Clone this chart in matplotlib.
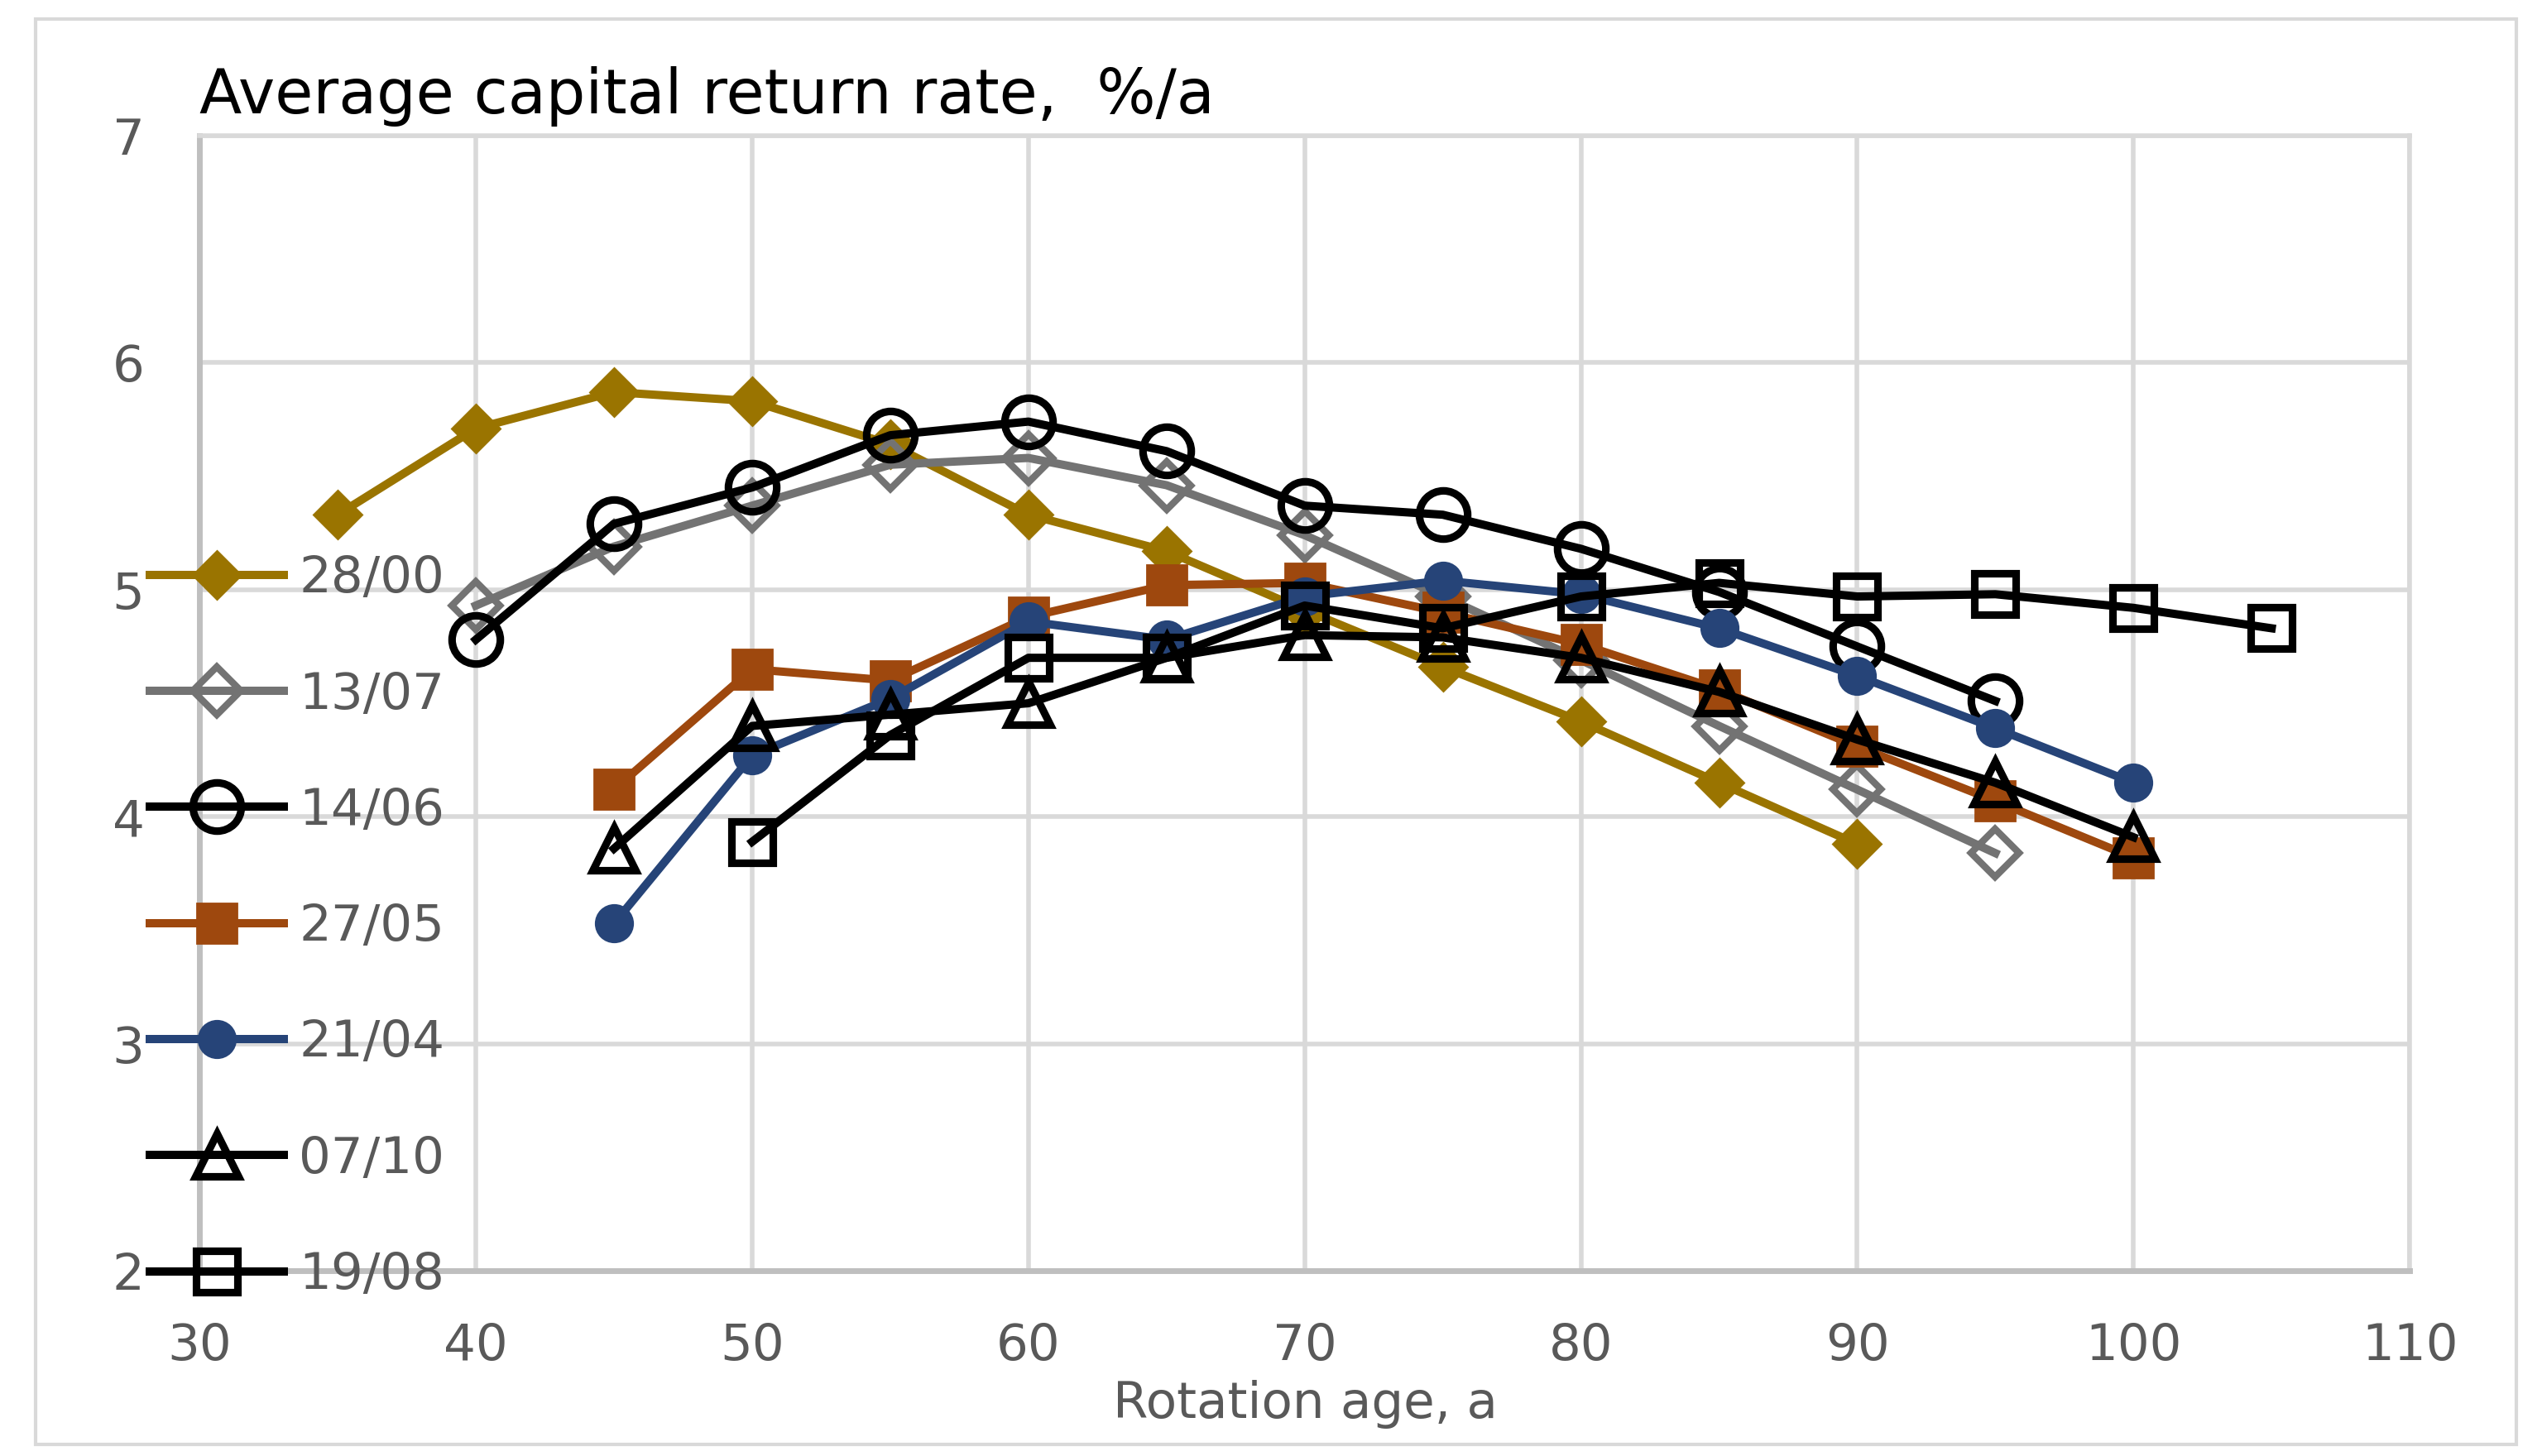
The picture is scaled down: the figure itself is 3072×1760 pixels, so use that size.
import matplotlib.pyplot as plt
from matplotlib.patches import Rectangle

plt.rcParams['font.family'] = ['DejaVu Sans']

# rotation ages for each series
x_2800 = [35, 40, 45, 50, 55, 60, 65, 70, 75, 80, 85, 90]
y_2800 = [5.33, 5.71, 5.87, 5.83, 5.64, 5.33, 5.17, 4.91, 4.66, 4.42, 4.15, 3.88]

x_1307 = [40, 45, 50, 55, 60, 65, 70, 75, 80, 85, 90, 95]
y_1307 = [4.93, 5.19, 5.37, 5.55, 5.58, 5.46, 5.24, 4.97, 4.69, 4.40, 4.12, 3.84]

x_1406 = [40, 45, 50, 55, 60, 65, 70, 75, 80, 85, 90, 95]
y_1406 = [4.78, 5.29, 5.45, 5.68, 5.74, 5.61, 5.37, 5.33, 5.18, 4.99, 4.75, 4.51]

x_2705 = [45, 50, 55, 60, 65, 70, 75, 80, 85, 90, 95, 100]
y_2705 = [4.12, 4.65, 4.60, 4.88, 5.02, 5.03, 4.90, 4.76, 4.56, 4.31, 4.07, 3.82]

x_2104 = [45, 50, 55, 60, 65, 70, 75, 80, 85, 90, 95, 100]
y_2104 = [3.53, 4.27, 4.52, 4.86, 4.78, 4.97, 5.04, 4.98, 4.83, 4.62, 4.39, 4.15]

x_0710 = [45, 50, 55, 60, 65, 70, 75, 80, 85, 90, 95, 100]
y_0710 = [3.86, 4.40, 4.45, 4.50, 4.70, 4.80, 4.79, 4.70, 4.55, 4.34, 4.15, 3.91]

x_1908 = [50, 55, 60, 65, 70, 75, 80, 85, 90, 95, 100, 105]
y_1908 = [3.89, 4.36, 4.70, 4.70, 4.93, 4.83, 4.97, 5.03, 4.97, 4.98, 4.92, 4.83]

labels = ['28/00', '13/07', '14/06', '27/05', '21/04', '07/10', '19/08']

grid_c = '#d9d9d9'
text_c = '#595959'

fig = plt.figure(figsize=(15.36, 8.8), dpi=200)
ax = fig.add_axes([0.0785, 0.127, 0.8695, 0.780])

lw = 3.6
# series drawn in legend order
ax.plot(x_2800, y_2800, color='#9a7400', lw=lw, marker='D', ms=15,
        mfc='#9a7400', mec='#9a7400', label=labels[0])
ax.plot(x_1307, y_1307, color='#737373', lw=lw, marker='D', ms=15,
        mfc='none', mec='#737373', mew=3, label=labels[1])
ax.plot(x_1406, y_1406, color='black', lw=lw, marker='o', ms=21,
        mfc='none', mec='black', mew=3.3, label=labels[2])
ax.plot(x_2705, y_2705, color='#9e480e', lw=lw, marker='s', ms=17,
        mfc='#9e480e', mec='#9e480e', label=labels[3])
ax.plot(x_2104, y_2104, color='#264478', lw=lw, marker='o', ms=16,
        mfc='#264478', mec='#264478', label=labels[4])
ax.plot(x_0710, y_0710, color='black', lw=lw, marker='^', ms=19,
        mfc='none', mec='black', mew=3.3, label=labels[5])
ax.plot(x_1908, y_1908, color='black', lw=lw, marker='s', ms=18,
        mfc='none', mec='black', mew=3.3, label=labels[6])

ax.set_xlim(30, 110)
ax.set_ylim(2, 7)
ax.set_xticks(range(30, 111, 10))
ax.set_yticks(range(2, 8))
ax.grid(True, color=grid_c, lw=2)
ax.set_axisbelow(True)
ax.tick_params(length=0, labelsize=22, labelcolor=text_c)
ax.tick_params(axis='x', pad=22)
ax.tick_params(axis='y', pad=24)
for s in ['top', 'right']:
    ax.spines[s].set_color(grid_c)
    ax.spines[s].set_linewidth(2)
for s in ['left', 'bottom']:
    ax.spines[s].set_color('#bfbfbf')
    ax.spines[s].set_linewidth(2.5)

leg = ax.legend(loc='upper left', bbox_to_anchor=(-0.0225, 0.631),
                frameon=False, fontsize=22, labelcolor=text_c,
                handlelength=2.65, handletextpad=0.3, labelspacing=1.33,
                borderpad=0, borderaxespad=0)
leg.set_zorder(5)

fig.text(0.0785, 0.922, 'Average capital return rate,  %/a', fontsize=27,
         color='black', ha='left', va='baseline')
fig.text(0.5135, 0.026, 'Rotation age, a', fontsize=22, color=text_c,
         ha='center', va='baseline')

fig.patches.append(Rectangle((0.014, 0.008), 0.976, 0.979, transform=fig.transFigure,
                             fill=False, edgecolor=grid_c, lw=1.5))

plt.savefig('out.png', dpi=200)
